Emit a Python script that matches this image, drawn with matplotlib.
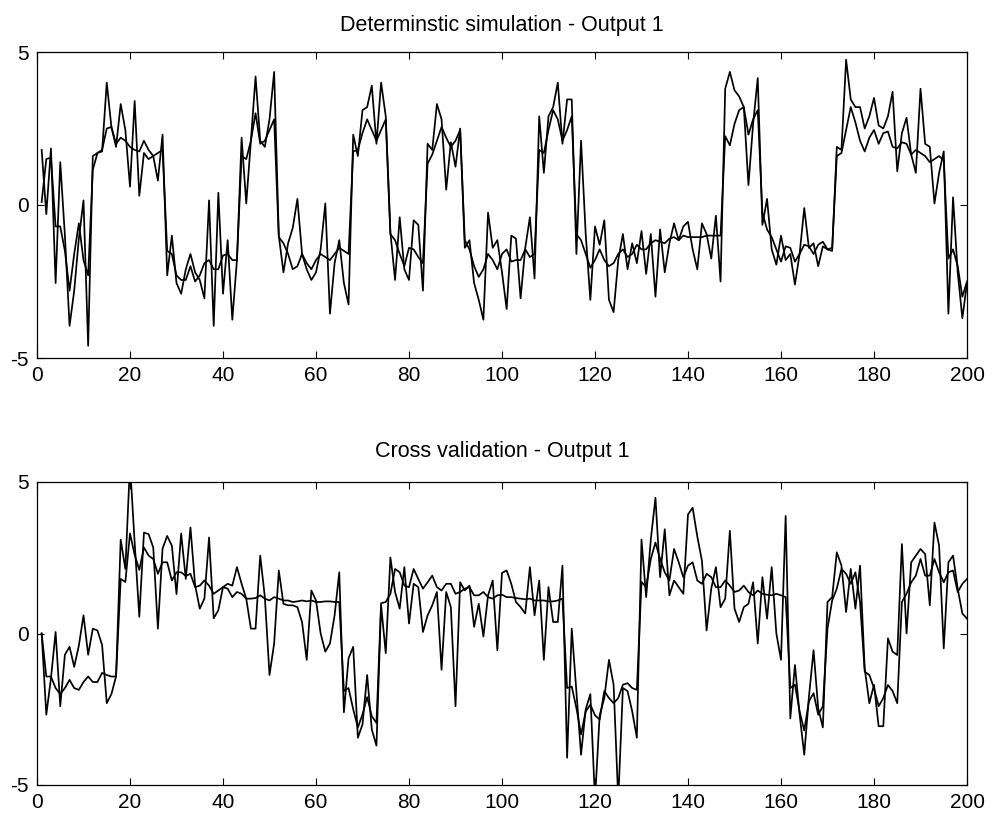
import numpy as np
import matplotlib
matplotlib.use("Agg")
import matplotlib.pyplot as plt

plt.rcParams['font.family'] = ['Liberation Sans', 'DejaVu Sans']
plt.rcParams['axes.unicode_minus'] = False

x = np.arange(1, 201)

top_meas = [
    1.8, -0.3, 1.85, -2.55, 1.4, -1.0, -3.95, -2.8, -1.1, 0.15,
    -4.6, 1.6, 1.7, 1.75, 4.0, 2.55, 1.9, 3.3, 2.45, 0.6,
    3.4, 0.3, 1.7, 1.5, 1.6, 0.8, 2.3, -2.3, -1.0, -2.55,
    -2.9, -2.1, -1.6, -2.2, -2.45, -3.05, 0.15, -3.95, 0.4, -2.9,
    -1.15, -3.75, -1.8, 2.2, 0.05, 2.1, 4.2, 2.1, 1.9, 2.8,
    4.35, -1.0, -2.2, -1.25, -0.75, 0.2, -1.6, -2.1, -2.45, -2.2,
    -1.45, 0.05, -3.55, -1.9, -1.15, -2.55, -3.25, 2.3, 1.6, 3.1,
    3.2, 3.9, 2.0, 4.0, 2.9, -0.9, -2.45, -0.4, -2.1, -2.45,
    -0.5, -0.65, -2.8, 2.0, 1.8, 3.3, 2.8, 0.5, 2.05, 1.25,
    2.5, -1.4, -1.15, -2.55, -3.1, -3.75, -0.25, -1.4, -1.15, -2.2,
    -3.4, -1.0, -1.1, -3.05, -1.4, -0.4, -2.4, 2.9, 1.05, 2.9,
    3.2, 4.0, 2.0, 3.45, 3.45, -1.6, 2.1, -0.95, -3.1, -0.7,
    -1.3, -0.5, -3.1, -3.5, -1.8, -0.95, -2.1, -1.25, -1.9, -0.85,
    -2.25, -0.95, -3.0, -0.8, -2.2, -1.25, -0.6, -1.15, -0.7, -0.55,
    -1.45, -2.1, -0.6, -0.95, -1.75, -0.35, -2.5, 3.8, 4.35, 3.75,
    3.55, 3.2, 0.65, 2.65, 4.15, -0.65, 0.2, -1.45, -1.95, -1.0,
    -1.8, -1.6, -2.6, -1.6, -0.1, -1.4, -1.25, -2.0, -1.35, -1.45,
    -1.5, 1.9, 1.8, 4.75, 3.45, 3.2, 3.2, 2.5, 2.9, 3.5,
    2.6, 2.5, 2.9, 3.7, 1.1, 2.35, 2.85, 1.65, 1.05, 3.8,
    2.0, 1.9, 0.05, 1.05, 1.75, -3.55, 0.25, -2.2, -3.7, -2.55,
]

top_sim = [
    0.1, 1.5, 1.55, -0.7, -0.7, -1.5, -2.8, -1.6, -0.6, -1.8,
    -2.3, 1.15, 1.7, 1.8, 2.5, 2.55, 2.0, 2.2, 2.1, 1.9,
    1.8, 1.75, 2.1, 1.8, 1.6, 1.7, 1.8, -1.5, -1.6, -2.3,
    -2.45, -2.45, -2.0, -2.5, -2.3, -1.9, -1.8, -2.1, -2.1, -1.65,
    -1.6, -1.8, -1.8, 1.6, 1.5, 2.1, 3.0, 2.0, 2.1, 2.45,
    2.8, -1.05, -1.25, -1.6, -2.1, -2.0, -1.6, -1.9, -2.1, -1.8,
    -1.6, -1.7, -1.8, -1.6, -1.4, -1.5, -1.6, 1.75, 1.8, 2.35,
    2.8, 2.45, 2.1, 2.45, 2.8, -0.95, -1.15, -1.6, -2.0, -1.4,
    -1.45, -1.7, -1.9, 1.35, 1.65, 2.1, 2.55, 2.2, 1.9, 2.1,
    2.45, -1.15, -1.45, -2.0, -2.35, -2.1, -1.6, -1.8, -2.1, -1.6,
    -1.45, -1.85, -1.8, -1.8, -1.45, -1.7, -1.6, 1.8, 1.7, 2.45,
    3.1, 2.8, 2.1, 2.45, 2.9, -0.95, -1.15, -1.6, -2.05, -1.8,
    -1.45, -1.8, -2.0, -1.9, -1.6, -1.45, -1.7, -1.6, -1.3, -1.45,
    -1.45, -1.25, -1.15, -1.2, -1.25, -1.1, -1.05, -1.15, -1.0, -1.05,
    -1.05, -1.05, -1.05, -1.0, -1.0, -1.0, -1.0, 2.25, 1.95, 2.65,
    3.1, 3.2, 2.3, 2.8, 3.1, -0.25, -0.8, -1.05, -1.45, -1.85,
    -1.35, -1.4, -1.85, -1.6, -1.3, -1.35, -1.6, -1.3, -1.2, -1.45,
    -1.4, 1.6, 1.7, 2.45, 3.2, 2.7, 2.1, 1.75, 2.2, 2.45,
    2.0, 2.35, 2.4, 1.9, 1.85, 2.05, 2.0, 1.65, 1.8, 1.7,
    1.6, 1.4, 1.5, 1.6, 1.45, -1.75, -1.45, -2.0, -3.0, -2.5,
]

cv_meas = [
    0.0, -2.68, -1.48, 0.05, -2.4, -0.7, -0.44, -1.1, -0.4, 0.6,
    -0.7, 0.16, 0.1, -0.38, -2.3, -2.0, -1.42, 3.1, 2.13, 5.6,
    3.0, 0.55, 3.33, 3.28, 2.84, 0.16, 2.8, 3.22, 2.9, 1.3,
    3.3, 1.8, 3.5, 1.6, 0.82, 1.15, 3.17, 0.5, 0.77, 1.53,
    1.64, 1.58, 2.19, 1.64, 1.15, 0.16, 0.16, 2.57, 1.2, -1.37,
    -0.33, 2.08, 0.98, 0.93, 0.93, 0.87, 0.38, -0.87, 1.42, 1.09,
    0.0, -0.6, -0.33, 0.6, 2.02, -2.6, -0.82, -0.44, -3.44, -3.0,
    -1.37, -3.17, -3.7, 0.93, -0.65, 2.51, 1.37, 0.82, 2.19, 0.33,
    1.64, 1.53, 0.05, 0.6, 0.93, 1.37, -1.2, 1.37, 0.87, -2.4,
    1.69, 1.42, 1.58, 0.22, 0.98, -0.1, 1.26, 1.75, -0.55, 2.0,
    2.08, 1.64, 1.04, 0.87, 0.66, 2.19, 0.6, 1.75, -0.87, 1.53,
    0.38, 0.38, 2.24, -4.1, 0.16, -1.9, -4.0, -2.5, -2.0, -5.5,
    -2.7, -2.13, -0.87, -1.69, -5.5, -1.8, -1.9, -2.57, -3.44, 3.1,
    1.2, 3.1, 4.48, 1.86, 3.44, 1.26, 1.75, 1.53, 1.31, 3.93,
    4.15, 3.2, 2.4, 0.1, 1.48, 2.19, 0.87, 1.15, 3.39, 0.82,
    0.38, 0.87, 0.98, 1.69, -0.33, 1.86, 0.49, 2.19, 0.0, -0.87,
    3.88, -2.8, -1.04, -2.67, -4.0, -2.1, -0.55, -2.47, -3.1, 1.04,
    1.2, 2.68, 2.24, 0.71, 2.13, 0.82, 2.24, -1.15, -2.3, -1.69,
    -3.06, -3.06, -0.16, -0.6, -0.71, 2.95, 0.0, 2.35, 2.57, 2.79,
    2.62, 0.93, 3.66, 2.9, -0.49, 2.35, 2.57, 1.48, 0.66, 0.49,
]

cv_sim = [
    0.0, -1.42, -1.42, -1.8, -2.0, -1.8, -1.53, -1.8, -1.86, -1.6,
    -1.42, -1.6, -1.6, -1.3, -1.37, -1.42, -1.42, 1.8, 1.7, 3.3,
    2.6, 2.1, 2.84, 2.57, 2.46, 1.97, 2.35, 2.35, 1.75, 2.02,
    2.02, 1.9, 1.97, 1.53, 1.58, 1.75, 1.58, 1.31, 1.42, 1.53,
    1.48, 1.2, 1.37, 1.31, 1.15, 1.15, 1.17, 1.26, 1.15, 1.09,
    1.2, 1.15, 1.09, 1.09, 1.04, 1.06, 1.09, 1.06, 1.09, 1.04,
    1.04, 1.06, 1.06, 1.04, 1.04, -1.9, -1.8, -2.5, -3.1, -2.67,
    -2.1, -2.73, -2.95, 1.0, 1.04, 1.31, 2.13, 2.02, 1.58, 1.53,
    2.13, 1.8, 1.48, 1.69, 1.91, 1.53, 1.42, 1.64, 1.64, 1.31,
    1.37, 1.48, 1.53, 1.26, 1.26, 1.37, 1.2, 1.15, 1.26, 1.28,
    1.2, 1.2, 1.17, 1.15, 1.13, 1.15, 1.09, 1.09, 1.09, 1.06,
    1.06, 1.09, 1.15, -1.8, -1.75, -2.46, -3.33, -2.57, -2.35, -2.7,
    -2.84, -1.9, -2.13, -2.3, -2.13, -1.69, -1.64, -1.8, -1.86, 1.7,
    1.53, 2.46, 3.0, 2.46, 2.02, 1.75, 2.79, 2.35, 1.86, 2.24,
    2.35, 1.75, 1.64, 1.97, 1.86, 1.53, 1.53, 1.75, 1.58, 1.37,
    1.42, 1.58, 1.37, 1.26, 1.42, 1.31, 1.28, 1.26, 1.31, 1.26,
    1.2, -1.8, -1.69, -2.57, -3.2, -2.24, -1.97, -2.68, -2.4, 0.16,
    1.09, 1.48, 2.13, 1.97, 1.64, 2.02, 1.04, -1.26, -1.37, -1.8,
    -2.4, -2.13, -1.7, -1.9, -2.3, 1.04, 1.31, 1.69, 1.91, 2.46,
    1.91, 1.91, 2.46, 2.02, 1.69, 2.02, 2.08, 1.37, 1.64, 1.8,
]

titles = ["Determinstic simulation - Output 1", "Cross validation - Output 1"]
xticks = list(range(0, 201, 20))
yticks = [-5, 0, 5]

fig = plt.figure(figsize=(9.92, 8.17), dpi=100)
W, H = 992, 817
ax1 = fig.add_axes([37 / W, 1 - 358 / H, 930 / W, 306 / H])
ax2 = fig.add_axes([37 / W, 1 - 785 / H, 930 / W, 303 / H])

for ax, meas, sim, title, pad in [(ax1, top_meas, top_sim, titles[0], 15),
                                   (ax2, cv_meas, cv_sim, titles[1], 18)]:
    ax.plot(x, sim, color='black', lw=1.25)
    ax.plot(x, meas, color='black', lw=1.25)
    ax.set_xlim(0, 200)
    ax.set_ylim(-5, 5)
    ax.set_xticks(xticks)
    ax.set_yticks(yticks)
    ax.tick_params(direction='in', top=True, right=True, length=5, width=0.8,
                   labelsize=15, pad=6)
    for s in ax.spines.values():
        s.set_linewidth(0.9)
    ax.set_title(title, fontsize=15.5, pad=pad)

fig.savefig("out.png", dpi=100)
